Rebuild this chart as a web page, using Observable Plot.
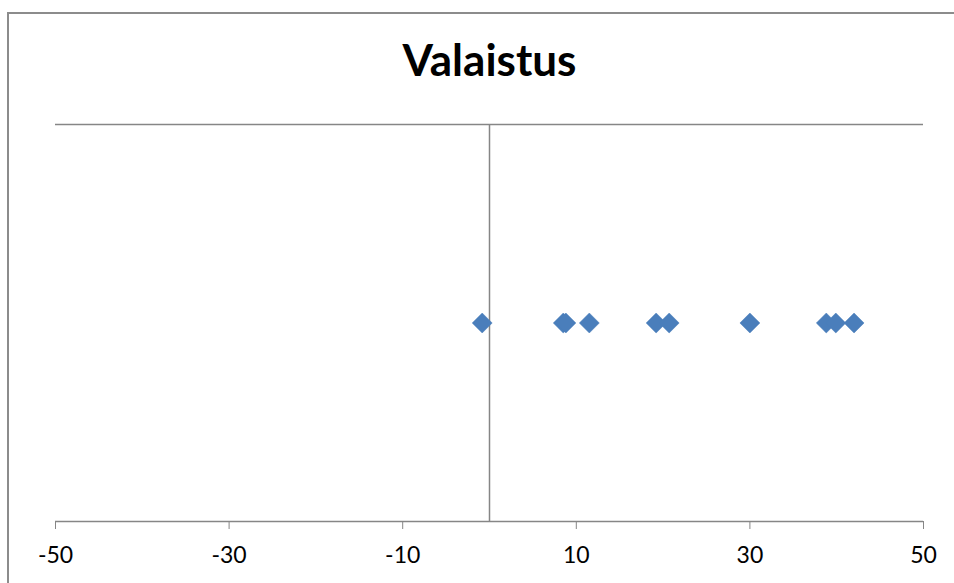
<!DOCTYPE html>
<html>
<head>
<meta charset="utf-8">
<script src="https://cdn.jsdelivr.net/npm/d3@7"></script>
<script src="https://cdn.jsdelivr.net/npm/@observablehq/plot@0.6"></script>
<style>
  html, body { margin: 0; padding: 0; background: #fff; }
  #wrap { position: relative; width: 954px; height: 583px; overflow: hidden; }
  #border { position: absolute; left: 7px; top: 12px; width: 1000px; height: 1000px;
            border-left: 2px solid #8c8c8c; border-top: 2px solid #8c8c8c; box-sizing: border-box; }
  #chart { position: absolute; left: 0; top: 0; }
</style>
</head>
<body>
<div id="wrap"><div id="border"></div><div id="chart"></div></div>
<script>
const title = "Valaistus";
const values = [-0.84, 8.5, 8.8, 11.5, 19.2, 20.7, 30.0, 38.8, 39.9, 42.0];
const yLevel = 1;
const xTicks = [-50, -30, -10, 10, 30, 50];
const xDomain = [-50, 50];
const yDomain = [0, 2];

const data = values.map(v => ({x: v, y: yLevel}));
const gray = "#868686";

const plot = Plot.plot({
  width: 954,
  height: 583,
  marginLeft: 55,
  marginRight: 31,
  marginTop: 124,
  marginBottom: 62,
  style: {fontFamily: "Lato, 'Open Sans', sans-serif", background: "transparent"},
  x: {domain: xDomain, axis: null},
  y: {domain: yDomain, axis: null},
  marks: [
    Plot.ruleY([yDomain[1]], {stroke: gray, strokeWidth: 1.5}),
    Plot.ruleX([0], {stroke: gray, strokeWidth: 1.5}),
    Plot.ruleY([yDomain[0]], {stroke: gray, strokeWidth: 1.5}),
    Plot.axisX({ticks: xTicks, tickSize: 8, tickPadding: 17, stroke: gray, fill: "black",
      fontSize: 23, label: null, tickFormat: d => String(d).replace("\u2212", "-")}),
    Plot.dot(data, {x: "x", y: "y", symbol: "diamond2", r: 9, fill: "#4a7ebb", stroke: "#4a7ebb", strokeWidth: 0.5}),
    Plot.text([title], {frameAnchor: "top", dy: -63, fontSize: 44, fontWeight: "bold", fill: "black", lineAnchor: "middle"})
  ]
});
document.getElementById("chart").appendChild(plot);
</script>
</body>
</html>
